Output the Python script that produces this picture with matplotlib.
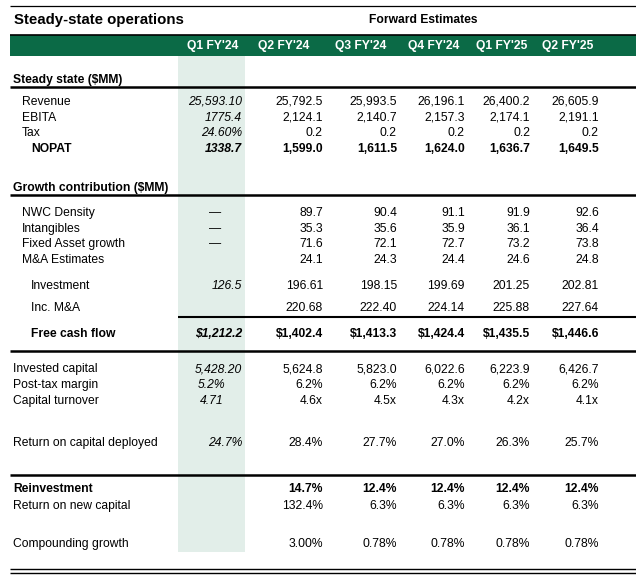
import matplotlib as mpl
import matplotlib.pyplot as plt
from matplotlib.patches import Rectangle

mpl.rcParams['font.family'] = ['Liberation Sans', 'DejaVu Sans']

# table contents
periods = ["Q1 FY'24", "Q2 FY'24", "Q3 FY'24", "Q4 FY'24", "Q1 FY'25", "Q2 FY'25"]

revenue = ["25,593.10", "25,792.5", "25,993.5", "26,196.1", "26,400.2", "26,605.9"]
ebita = ["1775.4", "2,124.1", "2,140.7", "2,157.3", "2,174.1", "2,191.1"]
tax = ["24.60%", "0.2", "0.2", "0.2", "0.2", "0.2"]
nopat = ["1338.7", "1,599.0", "1,611.5", "1,624.0", "1,636.7", "1,649.5"]
nwc = ["\u2014", "89.7", "90.4", "91.1", "91.9", "92.6"]
intangibles = ["\u2014", "35.3", "35.6", "35.9", "36.1", "36.4"]
fixed_asset = ["\u2014", "71.6", "72.1", "72.7", "73.2", "73.8"]
mna_est = ["", "24.1", "24.3", "24.4", "24.6", "24.8"]
investment = ["126.5", "196.61", "198.15", "199.69", "201.25", "202.81"]
inc_mna = ["", "220.68", "222.40", "224.14", "225.88", "227.64"]
fcf = ["$1,212.2", "$1,402.4", "$1,413.3", "$1,424.4", "$1,435.5", "$1,446.6"]
invested = ["5,428.20", "5,624.8", "5,823.0", "6,022.6", "6,223.9", "6,426.7"]
post_tax = ["5.2%", "6.2%", "6.2%", "6.2%", "6.2%", "6.2%"]
turnover = ["4.71", "4.6x", "4.5x", "4.3x", "4.2x", "4.1x"]
rocd = ["24.7%", "28.4%", "27.7%", "27.0%", "26.3%", "25.7%"]
reinvest = ["", "14.7%", "12.4%", "12.4%", "12.4%", "12.4%"]
ronc = ["", "132.4%", "6.3%", "6.3%", "6.3%", "6.3%"]
compounding = ["", "3.00%", "0.78%", "0.78%", "0.78%", "0.78%"]

# (label, values, y, label x, bold)
rows = [
    ("Revenue", revenue, 102, 22, False),
    ("EBITA", ebita, 118, 22, False),
    ("Tax", tax, 133, 22, False),
    ("NOPAT", nopat, 149, 31, True),
    ("NWC Density", nwc, 213, 22, False),
    ("Intangibles", intangibles, 229, 22, False),
    ("Fixed Asset growth", fixed_asset, 244, 22, False),
    ("M&A Estimates", mna_est, 260, 22, False),
    ("Investment", investment, 286, 31, False),
    ("Inc. M&A", inc_mna, 308, 31, False),
    ("Free cash flow", fcf, 334, 31, True),
    ("Invested capital", invested, 369, 13, False),
    ("Post-tax margin", post_tax, 385, 13, False),
    ("Capital turnover", turnover, 401, 13, False),
    ("Return on capital deployed", rocd, 443, 13, False),
    ("Reinvestment", reinvest, 489, 13, True),
    ("Return on new capital", ronc, 506, 13, False),
    ("Compounding growth", compounding, 544, 13, False),
]

W, H = 636, 579
col_right = [242, 323, 397, 465, 530, 599]
col_center = [213, 284, 361, 434, 502, 568]
green = '#0b6a46'
shade = '#e2eee9'
fs = 8.7

fig = plt.figure(figsize=(W / 100, H / 100), dpi=100)
ax = fig.add_axes([0, 0, 1, 1])
ax.set_xlim(0, W)
ax.set_ylim(H, 0)
ax.axis('off')

# shaded actuals column and header band
ax.add_patch(Rectangle((178, 56), 67, 496, color=shade, lw=0, zorder=0))
ax.add_patch(Rectangle((10, 35), W - 10, 21, color=green, lw=0, zorder=1))

# rules
ax.hlines(6, 10, W, color='black', lw=0.9)
ax.hlines(34.5, 10, W, color='black', lw=1.2)
for y in [87, 195, 351, 475]:
    ax.hlines(y, 10, W, color='black', lw=1.8)
ax.hlines(317, 178, W, color='black', lw=1.5)
ax.hlines(569, 10, W, color='black', lw=1.0)
ax.hlines(573, 10, W, color='black', lw=1.0)

ax.text(14, 20, "Steady-state operations", fontsize=10.8, fontweight='bold', va='center')
ax.text(423, 20, "Forward Estimates", fontsize=fs, fontweight='bold', va='center', ha='center')
for p, xc in zip(periods, col_center):
    ax.text(xc, 45.5, p, fontsize=fs, fontweight='bold', color='white', va='center', ha='center')

ax.text(13, 80, "Steady state ($MM)", fontsize=fs, fontweight='bold', va='center')
ax.text(13, 188, "Growth contribution ($MM)", fontsize=fs, fontweight='bold', va='center')

for label, vals, y, lx, bold in rows:
    w = 'bold' if bold else 'normal'
    ax.text(lx, y, label, fontsize=fs, fontweight=w, va='center')
    for i, v in enumerate(vals):
        if not v:
            continue
        style = 'italic' if i == 0 else 'normal'
        x, ha = col_right[i], 'right'
        if i == 0 and v == "\u2014":
            style, x = 'normal', 221
        elif i == 0 and label in ("Post-tax margin", "Capital turnover"):
            x, ha = 212, 'center'
        ax.text(x, y, v, fontsize=fs, fontweight=w, fontstyle=style, va='center', ha=ha)

fig.savefig('out.png', dpi=100)
